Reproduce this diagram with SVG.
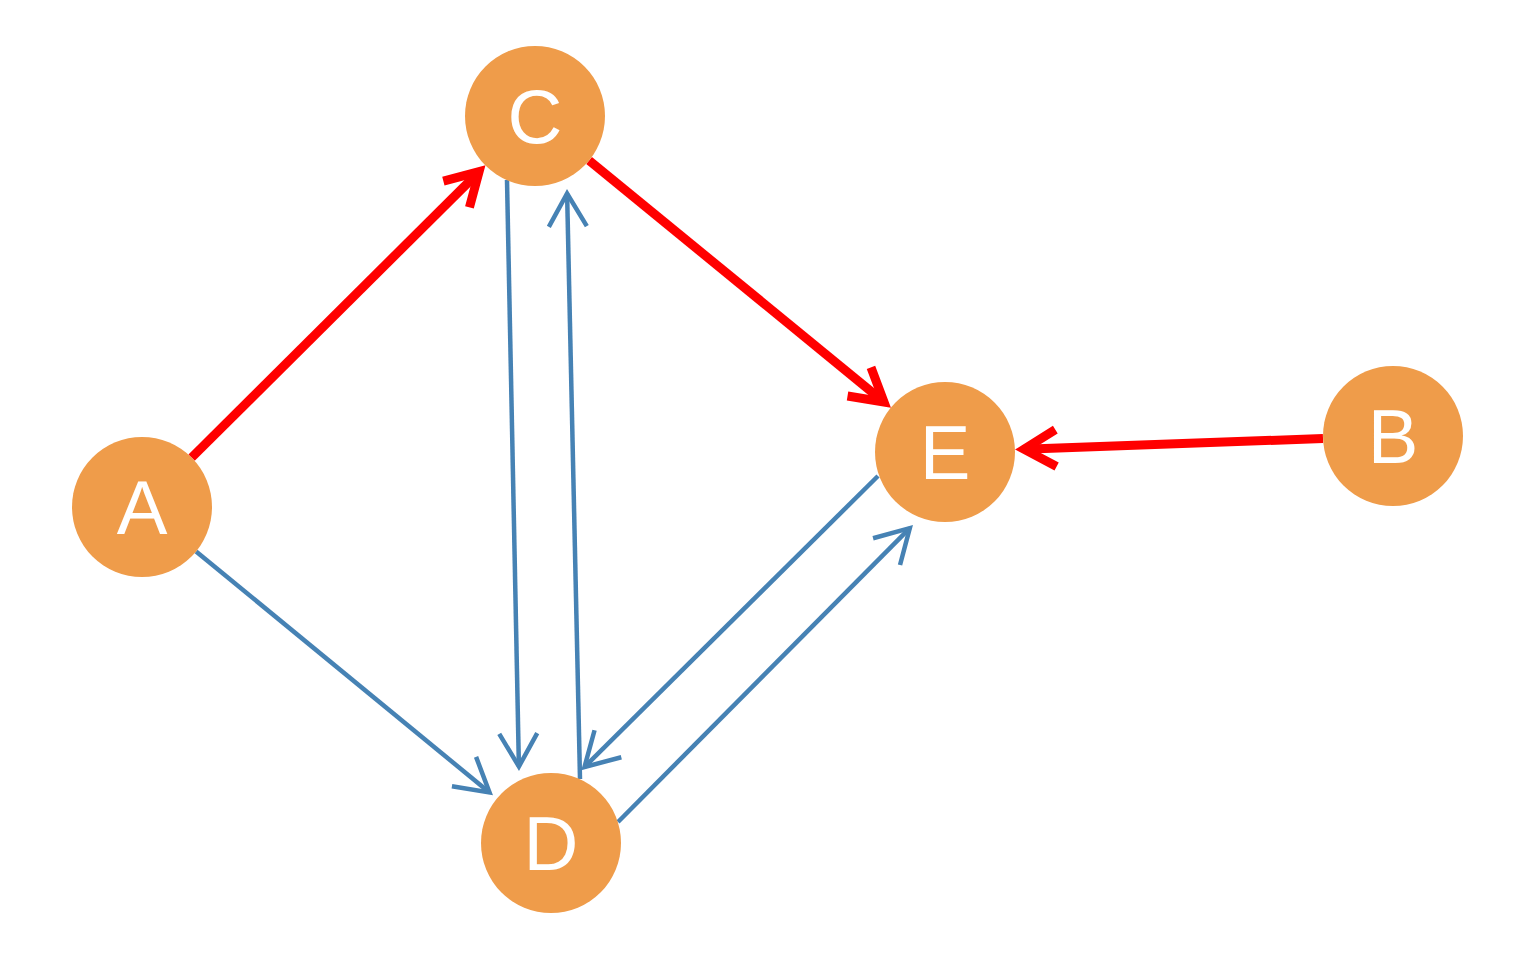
<svg xmlns="http://www.w3.org/2000/svg" width="1536" height="960" viewBox="0 0 1536 960">
<style>
.node circle{fill:#EF9C4A;}
.node text{fill:#FFFFFF;font-family:"Liberation Sans",Arial,sans-serif;font-size:76px;text-anchor:middle;}
.red{stroke:#FF0000;stroke-width:9;fill:none;marker-end:url(#arrRed);}
.blue{stroke:#4682B4;stroke-width:4.5;fill:none;marker-end:url(#arrBlue);}
</style>
<defs>
<marker id="arrRed" markerUnits="userSpaceOnUse" orient="auto" refX="0" refY="0" markerWidth="60" markerHeight="60" overflow="visible">
<path d="M-32,-18.5 L0,0 L-32,18.5" fill="none" stroke="#FF0000" stroke-width="9"/>
</marker>
<marker id="arrBlue" markerUnits="userSpaceOnUse" orient="auto" refX="0" refY="0" markerWidth="60" markerHeight="60" overflow="visible">
<path d="M-33,-19 L0,0 L-33,19" fill="none" stroke="#4682B4" stroke-width="4.5"/>
</marker>
</defs>
<rect width="1536" height="960" fill="#FFFFFF"/>
<g id="edges">
<line class="red" x1="191.6" y1="457.6" x2="479.1" y2="171.7"/>
<line class="red" x1="589.1" y1="160.4" x2="884" y2="402"/>
<line class="red" x1="1323" y1="438.5" x2="1024" y2="449.2"/>
<line class="blue" x1="196.1" y1="551.4" x2="489.5" y2="792.5"/>
<line class="blue" x1="507" y1="180" x2="518.9" y2="766.5"/>
<line class="blue" x1="580" y1="779" x2="567.1" y2="193.5"/>
<line class="blue" x1="878" y1="476" x2="584.5" y2="767"/>
<line class="blue" x1="618" y1="822" x2="909.8" y2="528.2"/>
</g>
<g id="node-A" class="node"><circle cx="142" cy="507" r="70"/><text x="142" y="534">A</text></g>
<g id="node-C" class="node"><circle cx="535" cy="116" r="70"/><text x="535" y="143">C</text></g>
<g id="node-E" class="node"><circle cx="945" cy="452" r="70"/><text x="945" y="479">E</text></g>
<g id="node-B" class="node"><circle cx="1393" cy="436" r="70"/><text x="1393" y="463">B</text></g>
<g id="node-D" class="node"><circle cx="551" cy="843" r="70"/><text x="551" y="870">D</text></g>
</svg>
